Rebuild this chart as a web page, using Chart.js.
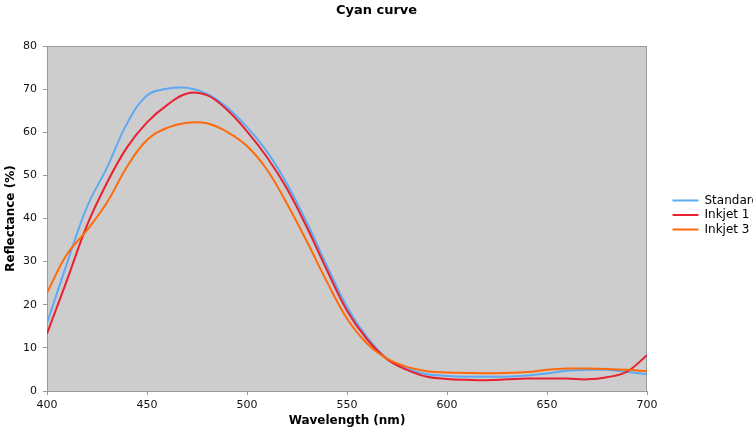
<!DOCTYPE html>
<html>
<head>
<meta charset="utf-8">
<script src="https://cdn.jsdelivr.net/npm/chart.js@4"></script>
<style>
    html, body { margin: 0; padding: 0; background: #fff; }
    #wrap { width: 753px; height: 430px; }
</style>
</head>
<body>
<div id="wrap"><canvas id="cyanChart" width="753" height="430"></canvas></div>
<script>
// readings, every 10 nm
const wavelengths = [400, 410, 420, 430, 440, 450, 460, 470, 480, 490, 500, 510, 520, 530, 540, 550,
    560, 570, 580, 590, 600, 610, 620, 630, 640, 650, 660, 670, 680, 690, 700];
const standard = [15.7, 29.6, 42.7, 51.8, 62.0, 68.5, 70.1, 70.3, 68.9, 65.8, 61.2, 55.5, 48.0, 39.0, 29.0, 19.5,
    12.5, 7.5, 5.2, 3.9, 3.5, 3.3, 3.3, 3.3, 3.6, 4.1, 4.7, 4.9, 4.9, 4.4, 3.9];
const inkjet1 = [13.3, 25.7, 38.4, 48.3, 56.5, 62.3, 66.3, 69.0, 68.6, 65.2, 60.2, 54.2, 46.9, 37.9, 28.0, 18.6,
    12.0, 7.4, 4.9, 3.3, 2.8, 2.6, 2.5, 2.7, 2.9, 2.9, 2.9, 2.7, 3.2, 4.5, 8.3];
const inkjet3 = [22.8, 31.7, 37.3, 43.7, 52.0, 58.2, 61.0, 62.2, 62.1, 60.1, 56.8, 51.3, 43.4, 34.6, 25.3, 16.8,
    11.0, 7.5, 5.6, 4.6, 4.3, 4.2, 4.1, 4.2, 4.4, 4.9, 5.2, 5.2, 5.1, 4.9, 4.6];
const seriesNames = ['Standard', 'Inkjet 1', 'Inkjet 3'];
const seriesColors = ['#5ea9f4', '#e8202f', '#ff6a0a'];

const FONT = 'DejaVu Sans';

function toPoints(values) {
    return values.map((v, i) => ({x: wavelengths[i], y: v}));
}

// grey plot area with a thin frame, like the excel chart
const plotBackground = {
    id: 'plotBackground',
    beforeDraw (chart) {
        let a = chart.chartArea;
        let ctx = chart.ctx;
        ctx.save();
        ctx.fillStyle = '#cdcdcd';
        ctx.fillRect(a.left, a.top, a.right - a.left, a.bottom - a.top);
        ctx.strokeStyle = '#9a9a9a';
        ctx.lineWidth = 1;
        ctx.strokeRect(a.left + 0.5, a.top + 0.5, a.right - a.left - 1, a.bottom - a.top);
        ctx.restore();
    }
};

let ctx = document.getElementById('cyanChart');
var chartData = {
    datasets: [standard, inkjet1, inkjet3].map((vals, i) => ({
        label: seriesNames[i],
        data: toPoints(vals),
        borderColor: seriesColors[i],
        backgroundColor: seriesColors[i],
        borderWidth: 2,
        pointRadius: 0,
        tension: 0.4,
        order: 3 - i
    }))
};

var cyanChart = new Chart(ctx, {
    type: 'line',
    data: chartData,
    plugins: [plotBackground],
    options: {
        responsive: false,
        animation: false,
        layout: {padding: {left: 0, right: 0, top: 0, bottom: 0}},
        scales: {
            x: {
                type: 'linear',
                min: 400,
                max: 700,
                ticks: {stepSize: 50, padding: 4, color: '#111', font: {family: FONT, size: 11}},
                grid: {drawOnChartArea: false, drawTicks: true, tickLength: 4, color: '#999'},
                border: {color: '#999'},
                title: {display: true, text: 'Wavelength (nm)', color: '#000',
                    font: {family: FONT, size: 12, weight: 'bold'}, padding: {top: 0, bottom: 2}},
                afterFit (scale) { scale.height = 39; }
            },
            y: {
                min: 0,
                max: 80,
                ticks: {stepSize: 10, padding: 6, color: '#111', font: {family: FONT, size: 11}},
                grid: {drawOnChartArea: false, drawTicks: true, tickLength: 4, color: '#999'},
                border: {color: '#999'},
                title: {display: true, text: 'Reflectance (%)', color: '#000',
                    font: {family: FONT, size: 12, weight: 'bold'}, padding: {top: 4, bottom: 0}},
                afterFit (scale) { scale.width = 47; }
            },
            // empty spacer between plot and legend
            gap: {
                position: 'right',
                min: 0,
                max: 1,
                grid: {display: false},
                ticks: {display: false},
                border: {display: false},
                afterFit (scale) { scale.width = 23; }
            }
        },
        plugins: {
            title: {
                display: true,
                text: 'Cyan curve',
                color: '#000',
                font: {family: FONT, size: 13, weight: 'bold'},
                padding: {top: 3.2, bottom: 27.2}
            },
            legend: {
                display: true,
                position: 'right',
                maxWidth: 83,
                labels: {
                    usePointStyle: true,
                    pointStyle: 'line',
                    pointStyleWidth: 26,
                    padding: 2.5,
                    color: '#000',
                    font: {family: FONT, size: 12},
                    sort: (a, b) => a.datasetIndex - b.datasetIndex
                }
            },
            tooltip: {enabled: false}
        }
    }
});
</script>
</body>
</html>
